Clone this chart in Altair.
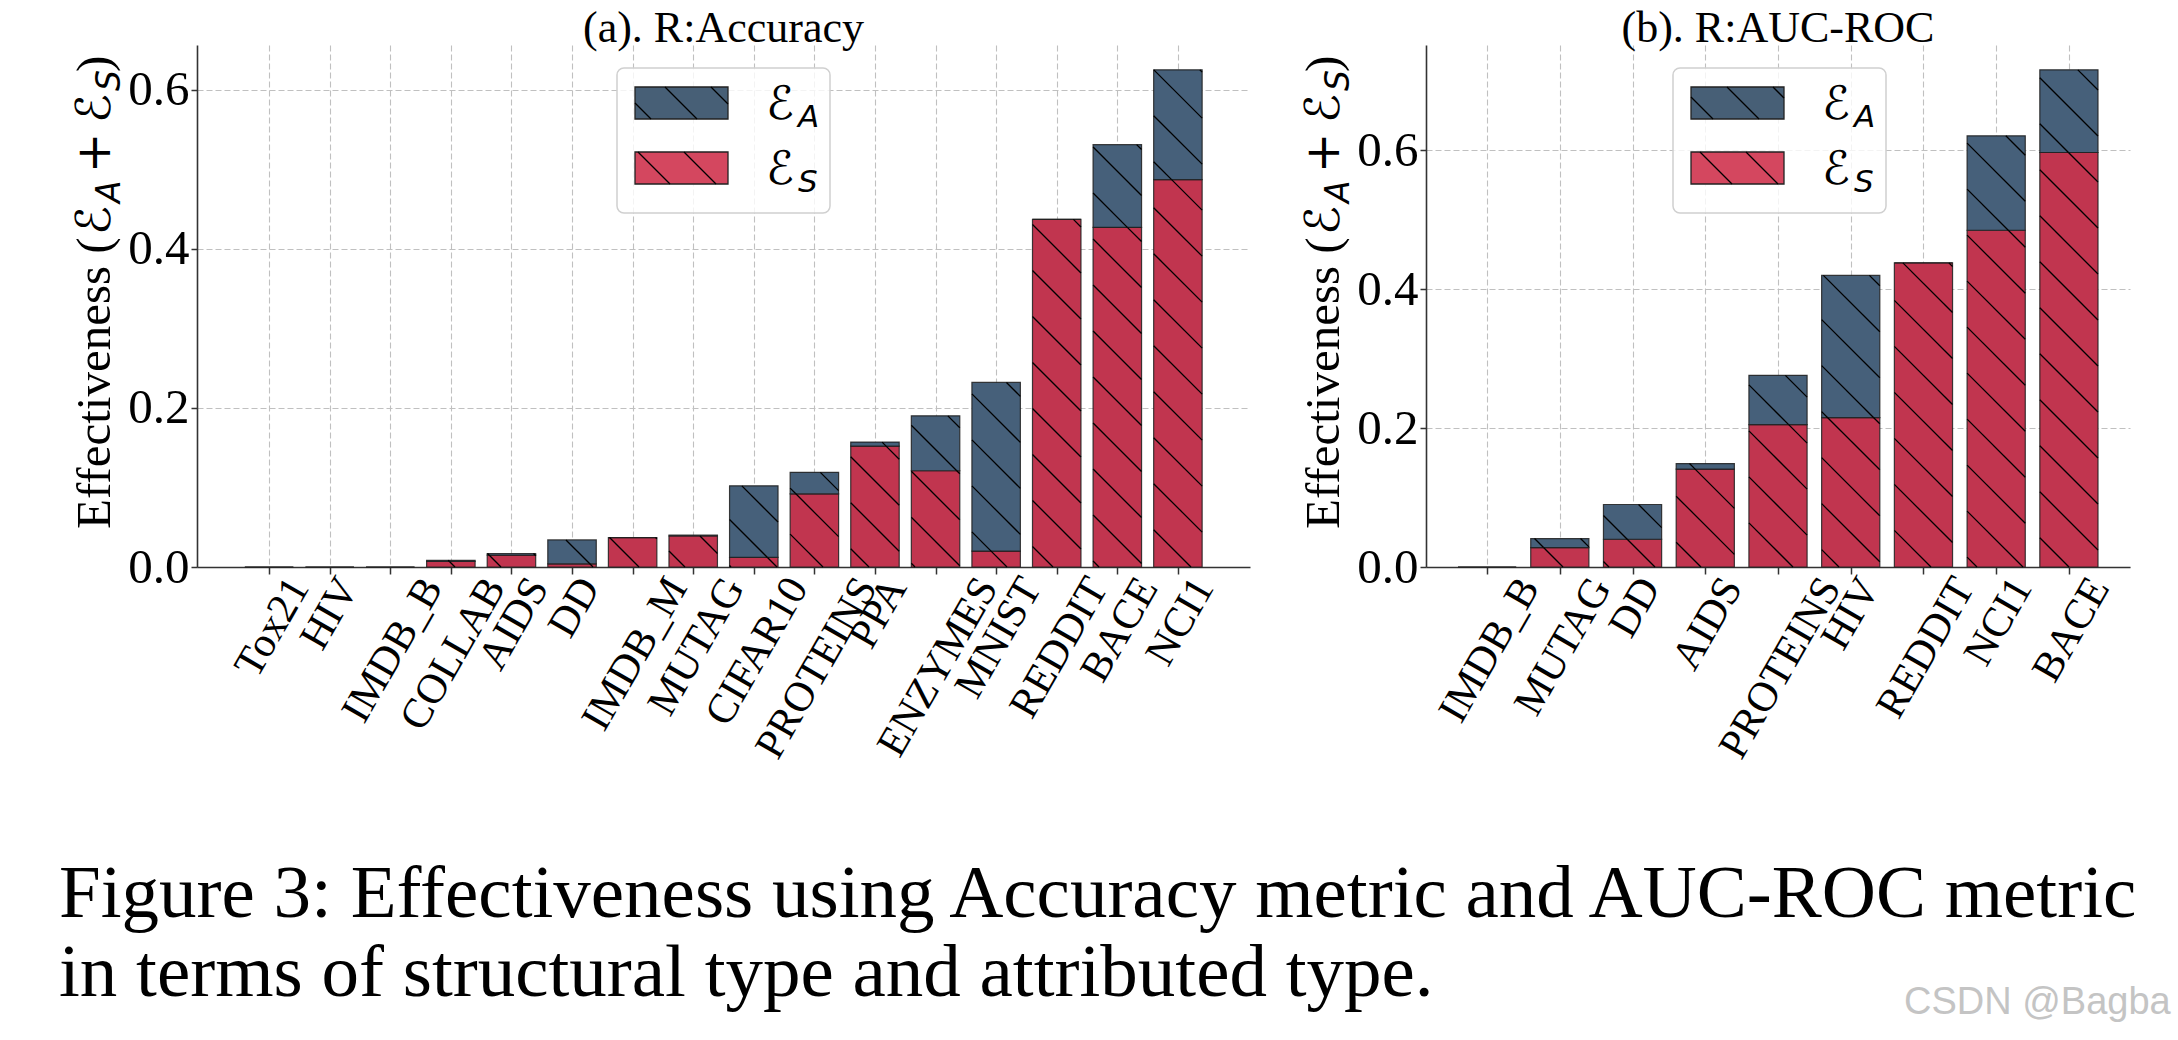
import math
import altair as alt
import pandas as pd

# ---------------- data ----------------
acc_names = ["Tox21", "HIV", "IMDB_B", "COLLAB", "AIDS", "DD", "IMDB_M", "MUTAG",
             "CIFAR10", "PROTEINS", "PPA", "ENZYMES", "MNIST", "REDDIT", "BACE", "NCI1"]
acc_S = [0.0, 0.0, 0.0, 0.007, 0.015, 0.004, 0.037, 0.039,
         0.012, 0.092, 0.152, 0.121, 0.020, 0.437, 0.427, 0.487]
acc_A = [0.0, 0.0, 0.0, 0.0015, 0.002, 0.030, 0.0, 0.001,
         0.090, 0.027, 0.005, 0.069, 0.212, 0.0, 0.104, 0.138]

auc_names = ["IMDB_B", "MUTAG", "DD", "AIDS", "PROTEINS", "HIV", "REDDIT", "NCI1", "BACE"]
auc_S = [0.0, 0.028, 0.040, 0.141, 0.205, 0.215, 0.438, 0.485, 0.597]
auc_A = [0.0, 0.013, 0.050, 0.008, 0.071, 0.205, 0.0, 0.136, 0.119]

series = ["A", "S"]
bar_colors = ["#46607a", "#c1354f"]
legend_colors = ["#475f76", "#d4475f"]
y_ticks = [0.0, 0.2, 0.4, 0.6]
panel_titles = ["(a). R:Accuracy", "(b). R:AUC-ROC"]
caption_lines = ["Figure 3: Effectiveness using Accuracy metric and AUC-ROC metric",
                 "in terms of structural type and attributed type."]
watermark = "CSDN @Bagba"

# ---------------- style / layout ----------------
SERIF = "Liberation Serif"
SANS = "DejaVu Sans"
H = 522
HATCH = 46.0
TICK_FS = 49
XLAB_FS = 42
XLAB_ANGLE = 60
GRID = dict(grid=True, gridColor="#c0c0c0", gridDash=[6, 3], gridWidth=1.1)
DUMMY = pd.DataFrame({"d": [0]})

TIMES_W = {"A": .722, "B": .667, "C": .667, "D": .722, "E": .611, "F": .556, "G": .722,
           "H": .722, "I": .333, "L": .611, "M": .889, "N": .722, "O": .722, "P": .556,
           "R": .667, "S": .556, "T": .611, "U": .722, "X": .722, "Y": .722, "Z": .611,
           "_": .5, "o": .5, "x": .5}


def text_len(s, fs):
    return sum(TIMES_W.get(c, 0.5) for c in s) * fs


def vtext(txt, x, y, font, size, angle=0, align="left", baseline="alphabetic",
          color="black", style="normal"):
    return alt.Chart(DUMMY).mark_text(
        text=txt, font=font, fontSize=size, angle=angle, align=align,
        baseline=baseline, color=color, fontStyle=style
    ).encode(x=alt.value(x), y=alt.value(y))


def vrule(x, y, x2, y2, width=1.3):
    return alt.Chart(DUMMY).mark_rule(color="black", strokeWidth=width).encode(
        x=alt.value(x), y=alt.value(y), x2=alt.value(x2), y2=alt.value(y2))


def panel(names, S, A, width, title, phase_bar, phase_leg, leg_x, extend_left=None):
    n = len(names)
    margin = 0.05 * (n - 0.2)
    xmin, xmax = -0.4 - margin, n - 1 + 0.4 + margin
    kx = width / (xmax - xmin)
    ymax = 1.05 * max(s + a for s, a in zip(S, A))
    ky = H / ymax
    xs = alt.Scale(domain=[xmin, xmax], nice=False, zero=False)
    ys = alt.Scale(domain=[0, ymax], nice=False, zero=False)

    rows, hatch, labs = [], [], []
    for i, (nm, s, a) in enumerate(zip(names, S, A)):
        L = text_len(nm, XLAB_FS)
        shift = (L / 2) * math.cos(math.radians(XLAB_ANGLE)) - 22
        labs.append(dict(name=nm, lx=i + shift / kx, ly=0.0))
        for ser, y0, y1 in (("S", 0.0, s), ("A", s, s + a)):
            rows.append(dict(name=nm, series=ser, x0=i - 0.4, x1=i + 0.4, y0=y0, y1=y1))
            X0, X1 = (i - 0.4 - xmin) * kx, (i + 0.4 - xmin) * kx
            Y0, Y1 = y0 * ky, y1 * ky
            if Y1 - Y0 < 1.0:
                continue
            k = math.ceil((X0 + Y0 - phase_bar) / HATCH) * HATCH + phase_bar
            while k < X1 + Y1:
                xa, xb = max(X0, k - Y1), min(X1, k - Y0)
                if xb > xa:
                    hatch.append(dict(hx=xmin + xa / kx, hy=(k - xa) / ky,
                                      hx2=xmin + xb / kx, hy2=(k - xb) / ky))
                k += HATCH
    df = pd.DataFrame(rows)
    hdf = pd.DataFrame(hatch)
    ldf = pd.DataFrame(labs)

    xaxis = alt.Axis(values=list(range(n)), labels=False, ticks=True, tickSize=7,
                     tickColor="#333333", tickWidth=1.5, domainColor="#333333",
                     domainWidth=1.6, title="", **GRID)
    yaxis = alt.Axis(values=y_ticks, format=".1f", labelFont=SERIF, labelFontSize=TICK_FS,
                     labelColor="black", tickSize=6, tickColor="#333333", tickWidth=1.5,
                     labelPadding=2, domainColor="#333333", domainWidth=1.6, title="",
                     **GRID)

    bars = alt.Chart(df).mark_rect(stroke="#1e1e1e", strokeWidth=1.2, strokeOpacity=0.85).encode(
        x=alt.X("x0:Q", scale=xs, axis=xaxis), x2="x1",
        y=alt.Y("y0:Q", scale=ys, axis=yaxis), y2="y1",
        color=alt.Color("series:N", scale=alt.Scale(domain=series, range=bar_colors), legend=None),
    )
    hlines = alt.Chart(hdf).mark_rule(color="black", strokeWidth=1.3).encode(
        x=alt.X("hx:Q", scale=xs, axis=xaxis), x2="hx2",
        y=alt.Y("hy:Q", scale=ys, axis=yaxis), y2="hy2",
    )
    xlabels = alt.Chart(ldf).mark_text(
        angle=360 - XLAB_ANGLE, align="right", baseline="middle", font=SERIF,
        fontSize=XLAB_FS, color="black", dy=28
    ).encode(x=alt.X("lx:Q", scale=xs, axis=xaxis),
             y=alt.Y("ly:Q", scale=ys, axis=yaxis), text="name:N")

    layers = [bars, hlines, xlabels]

    # panel title
    layers.append(vtext(title, width / 2, -3, SERIF, 44, align="center"))

    # y-axis title: Effectiveness (E_A + E_S)
    layers += [
        vtext("Effectiveness (", -87, 484, SERIF, 49, angle=270),
        vtext("\u2130", -87, 190, SANS, 48, angle=270),
        vtext("A", -77, 158, SANS, 33, angle=270, style="italic"),
        vtext("+", -87, 128, SANS, 48, angle=270),
        vtext("\u2130", -87, 78, SANS, 48, angle=270),
        vtext("S", -77, 46, SANS, 33, angle=270, style="italic"),
        vtext(")", -87, 27, SERIF, 49, angle=270),
    ]

    # legend
    box = alt.Chart(DUMMY).mark_rect(fill="white", fillOpacity=0.8, stroke="#d0d0d0",
                                     strokeWidth=1.5, cornerRadius=7).encode(
        x=alt.value(leg_x), x2=alt.value(leg_x + 213), y=alt.value(23), y2=alt.value(168))
    layers.append(box)
    for j, (ser, col) in enumerate(zip(series, legend_colors)):
        sx0, sx1 = leg_x + 18, leg_x + 111
        sy0, sy1 = 42 + 65 * j, 74 + 65 * j
        layers.append(alt.Chart(DUMMY).mark_rect(fill=col, stroke="#222222", strokeWidth=1.3).encode(
            x=alt.value(sx0), x2=alt.value(sx1), y=alt.value(sy0), y2=alt.value(sy1)))
        c = math.ceil((sx0 - sy1 - phase_leg) / HATCH) * HATCH + phase_leg
        while c < sx1 - sy0:
            xa, xb = max(sx0, c + sy0), min(sx1, c + sy1)
            if xb > xa:
                layers.append(vrule(xa, xa - c, xb, xb - c))
            c += HATCH
        layers.append(vtext("\u2130", leg_x + 149, 74 + 65 * j, SANS, 46))
        layers.append(vtext(ser, leg_x + 181, 82 + 65 * j, SANS, 31, style="italic"))

    if extend_left is not None:
        layers.append(vtext("", -extend_left, 0, SERIF, 10))

    return alt.layer(*layers).properties(width=width, height=H)


left = panel(acc_names, acc_S, acc_A, 1053, panel_titles[0], 28, 12, 420, extend_left=138)
right = panel(auc_names, auc_S, auc_A, 704, panel_titles[1], 45, 29, 247)

caption = alt.layer(
    vtext(caption_lines[0], -138, 71, SERIF, 75),
    vtext(caption_lines[1], -138, 150, SERIF, 75),
    vtext(watermark, 1707, 168, "Liberation Sans", 38, color="#c4c4c4"),
).properties(width=1700, height=170)

chart = alt.vconcat(
    alt.hconcat(left, right, spacing=48),
    caption,
    spacing=79,
).properties(padding={"left": 58, "top": 6, "right": 0, "bottom": 0}).configure_view(
    stroke="transparent"
)

chart.save("out.html", embed_options={"renderer": "svg", "actions": False})
